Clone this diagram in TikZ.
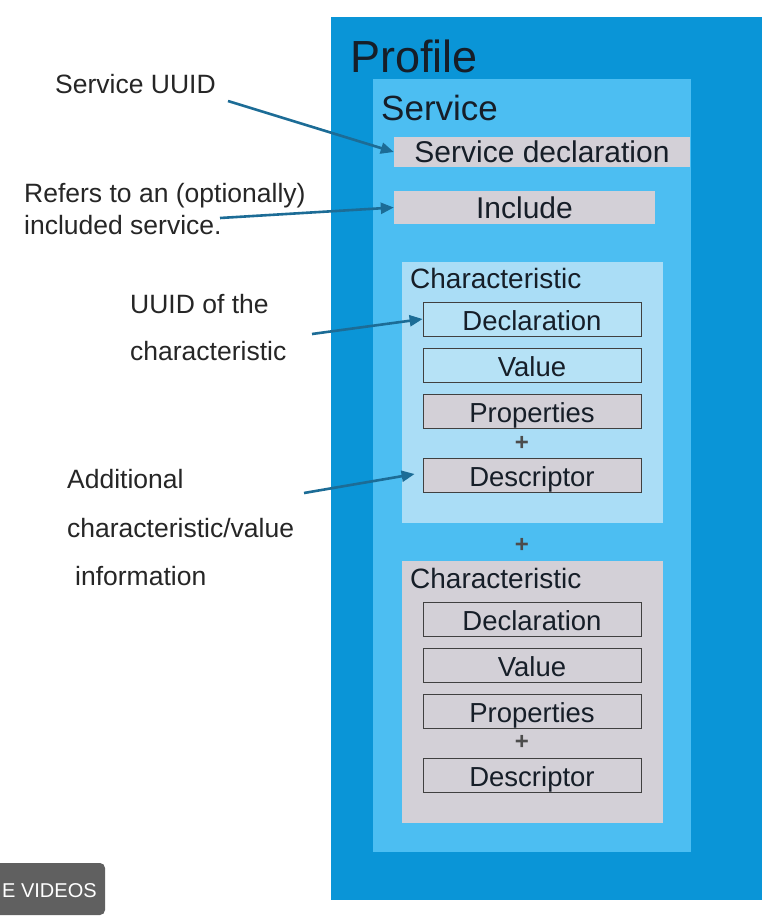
\documentclass[tikz,border=0pt]{standalone}
\usepackage{fontspec}
\setmainfont{Liberation Sans}
\usetikzlibrary{arrows.meta}
\definecolor{profblue}{RGB}{10,149,215}
\definecolor{servblue}{RGB}{76,190,242}
\definecolor{charblue}{RGB}{170,221,246}
\definecolor{cellblue}{RGB}{182,226,246}
\definecolor{greybox}{RGB}{211,208,215}
\definecolor{txtdark}{RGB}{22,30,40}
\definecolor{arrowcol}{RGB}{28,108,150}
\definecolor{ovgrey}{RGB}{96,96,96}
\tikzset{
  cell/.style={draw=black!75, line width=0.8pt, inner sep=0pt, minimum width=218pt, minimum height=34pt, text height=22pt, text depth=0pt, font=\fontsize{27.5}{27.5}\selectfont, text=txtdark},
  plainbox/.style={draw=none, fill=greybox, inner sep=0pt, text height=21.5pt, text depth=0pt, font=\fontsize{30}{30}\selectfont, text=txtdark},
  lab/.style={inner sep=0pt, anchor=base west, text=black!85},
  arr/.style={draw=arrowcol, line width=2.6pt, -{Triangle[length=13pt,width=11pt]}},
  plus/.style={inner sep=0pt, font=\bfseries\fontsize{24}{24}\selectfont, text=black!70}
}
\begin{document}
\begin{tikzpicture}[x=1pt,y=-1pt]
\useasboundingbox (0,0) rectangle (768,916);
\fill[white] (0,0) rectangle (768,916);
% Profile
\fill[profblue] (331,17) rectangle (762,900);
\node[lab, text=txtdark, font=\fontsize{45}{45}\selectfont] (profile) at (350,72) {Profile};
% Service
\fill[servblue] (373,79) rectangle (691,852);
\node[lab, text=txtdark, font=\fontsize{35}{35}\selectfont] (service) at (381,120) {Service};
\node[plainbox, minimum width=296pt, minimum height=30pt] (sdecl) at (542,152) {Service declaration};
\node[plainbox, minimum width=261pt, minimum height=33pt] (incl) at (524.5,207.5) {Include};
% Characteristic 1
\fill[charblue] (402,262) rectangle (663,523);
\node[lab, text=txtdark, font=\fontsize{28}{28}\selectfont] (ch1) at (410,288) {Characteristic};
\node[cell, fill=cellblue] (decl1) at (532,319) {Declaration};
\node[cell, fill=cellblue] (val1) at (532,365) {Value};
\node[cell, fill=greybox] (prop1) at (532,411) {Properties};
\node[plus] (p1) at (522,443) {+};
\node[cell, fill=greybox] (desc1) at (532,475) {Descriptor};
\node[plus] (p2) at (522,545) {+};
% Characteristic 2
\fill[greybox] (402,561) rectangle (663,823);
\node[lab, text=txtdark, font=\fontsize{28}{28}\selectfont] (ch2) at (410,588) {Characteristic};
\node[cell, fill=greybox] (decl2) at (532,619) {Declaration};
\node[cell, fill=greybox] (val2) at (532,665) {Value};
\node[cell, fill=greybox] (prop2) at (532,711) {Properties};
\node[plus] (p3) at (522,742) {+};
\node[cell, fill=greybox] (desc2) at (532,775) {Descriptor};
% left labels
\node[lab, font=\fontsize{26.5}{26.5}\selectfont] (l1) at (55,93) {Service UUID};
\node[lab, font=\fontsize{26.5}{26.5}\selectfont] (l2a) at (24,202) {Refers to an (optionally)};
\node[lab, font=\fontsize{26.5}{26.5}\selectfont] (l2b) at (24,234) {included service.};
\node[lab, font=\fontsize{26.5}{26.5}\selectfont] (l3a) at (130,313) {UUID of the};
\node[lab, font=\fontsize{26.5}{26.5}\selectfont] (l3b) at (130,360) {characteristic};
\node[lab, font=\fontsize{26.5}{26.5}\selectfont] (l4a) at (67,488) {Additional};
\node[lab, font=\fontsize{26.5}{26.5}\selectfont] (l4b) at (67,537) {characteristic/value};
\node[lab, font=\fontsize{26.5}{26.5}\selectfont] (l4c) at (75,585) {information};
% arrows
\coordinate (a1) at (228,101);
\coordinate (a2) at (220,218);
\coordinate (a3) at (312,334);
\coordinate (a4) at (304,493);
\draw[arr] (a1) -- (sdecl.west);
\draw[arr] (a2) -- (incl.west);
\draw[arr] (a3) -- (decl1.west);
\draw[arr] (a4) -- ([xshift=-8pt,yshift=1pt]desc1.west);
% video overlay
\fill[ovgrey, rounded corners=5pt] (-10,863) rectangle (105,915);
\node[inner sep=0pt, anchor=base west, text=white, font=\fontsize{20}{20}\selectfont] (ov) at (2,897) {E VIDEOS};
\end{tikzpicture}
\end{document}
